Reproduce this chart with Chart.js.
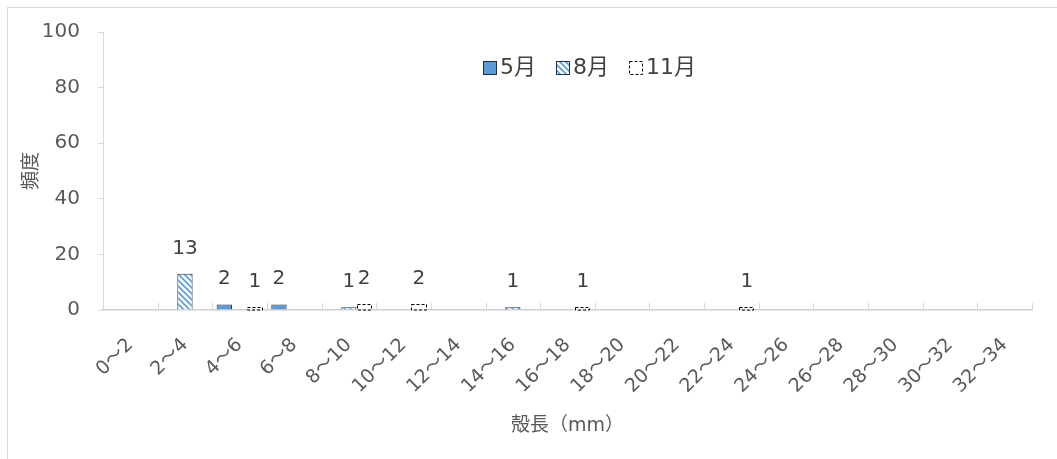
<!DOCTYPE html>
<html lang="ja">
<head>
<meta charset="UTF-8">
<title>殻長の頻度分布</title>
<script src="https://cdn.jsdelivr.net/npm/chart.js@4.4.1/dist/chart.umd.min.js"></script>
<style>
    html, body { margin: 0; padding: 0; background: #fff; overflow: hidden; }
    #frame {
        position: absolute;
        left: 7px;
        top: 7px;
        border-left: 1px solid #d9d9d9;
        border-top: 1px solid #d9d9d9;
    }
    canvas { display: block; }
</style>
</head>
<body>
<div id="frame">
    <canvas id="shellChart" width="1049" height="451"></canvas>
</div>
<script>
// shell length classes (mm)
const lengthClasses = ['0～2', '2～4', '4～6', '6～8', '8～10', '10～12', '12～14', '14～16', '16～18',
    '18～20', '20～22', '22～24', '24～26', '26～28', '28～30', '30～32', '32～34'];

// counts per class, empty cells left as null
const mayCounts = [null, null, 2, 2, null, null, null, null, null, null, null, null, null, null, null, null, null];
const augCounts = [null, 13, null, null, 1, null, null, 1, null, null, null, null, null, null, null, null, null];
const novCounts = [null, null, 1, null, 2, 2, null, null, 1, null, null, 1, null, null, null, null, null];

const seriesNames = ['5月', '8月', '11月'];
const yTicks = { min: 0, max: 100, step: 20 };

const FONT = '"DejaVu Sans", "Noto Sans CJK JP", sans-serif';
const TEXT = '#595959';
const LINE = '#d9d9d9';
const BLUE = '#5b9bd5';
const EDGE = '#1f2f4a';

// diagonal hatch used by the August bars
function makeHatch() {
    const c = document.createElement('canvas');
    c.width = 6;
    c.height = 6;
    const g = c.getContext('2d');
    g.fillStyle = '#ffffff';
    g.fillRect(0, 0, 6, 6);
    g.strokeStyle = BLUE;
    g.lineWidth = 1.6;
    g.beginPath();
    g.moveTo(-1, -1); g.lineTo(7, 7);
    g.moveTo(-4, 2); g.lineTo(4, 10);
    g.moveTo(2, -4); g.lineTo(10, 4);
    g.stroke();
    return g.createPattern(c, 'repeat');
}
const hatch = makeHatch();

function dashedBox(ctx, l, t, w, h) {
    ctx.save();
    ctx.strokeStyle = '#000000';
    ctx.lineWidth = 1;
    ctx.setLineDash([3, 2]);
    ctx.strokeRect(l, t, w, h);
    ctx.restore();
}

// keep the plot box fixed: no extra room for overhanging tick labels
function noOverhang(scale) {
    scale.paddingTop = 0;
    scale.paddingBottom = 0;
    scale.paddingLeft = 0;
    scale.paddingRight = 0;
}

// value labels above each bar
const valueLabels = {
    id: 'valueLabels',
    afterDatasetsDraw(chart) {
        const ctx = chart.ctx;
        ctx.save();
        ctx.font = '20px ' + FONT;
        ctx.fillStyle = '#404040';
        ctx.textAlign = 'center';
        ctx.textBaseline = 'alphabetic';
        chart.data.datasets.forEach((ds, i) => {
            chart.getDatasetMeta(i).data.forEach((bar, j) => {
                const v = ds.data[j];
                if (v === null || v === undefined) return;
                ctx.fillText(String(v), bar.x, bar.y - 20);
            });
        });
        ctx.restore();
    }
};

// dashed outline for the November bars, inward tick marks on the category axis
const axisExtras = {
    id: 'axisExtras',
    afterDatasetsDraw(chart) {
        const ctx = chart.ctx;
        chart.getDatasetMeta(2).data.forEach((bar, j) => {
            if (novCounts[j] === null) return;
            const l = Math.round(bar.x - bar.width / 2) + 0.5;
            const r = Math.round(bar.x + bar.width / 2) - 0.5;
            const t = Math.round(bar.y) + 0.5;
            dashedBox(ctx, l, t, r - l, Math.round(bar.base) - t);
        });

        const x = chart.scales.x;
        const yb = Math.round(x.top);
        ctx.save();
        ctx.strokeStyle = LINE;
        ctx.lineWidth = 1;
        ctx.beginPath();
        for (let i = 0; i <= lengthClasses.length; i++) {
            let px;
            if (i === 0) px = x.left;
            else if (i === lengthClasses.length) px = x.right;
            else px = (x.getPixelForValue(i - 1) + x.getPixelForValue(i)) / 2;
            px = Math.round(px) + 0.5;
            ctx.moveTo(px, yb);
            ctx.lineTo(px, yb - 7);
        }
        ctx.stroke();
        ctx.restore();
    }
};

// series key inside the plot, near the top
const seriesKey = {
    id: 'seriesKey',
    afterDraw(chart) {
        const ctx = chart.ctx;
        const area = chart.chartArea;
        const box = 13, gapText = 4, gapItem = 20;
        ctx.save();
        ctx.font = '22px ' + FONT;
        let cx = Math.round(area.left + 380);
        const cy = area.top + 35;
        ctx.textBaseline = 'middle';
        ctx.textAlign = 'left';
        chart.data.datasets.forEach((ds, i) => {
            const bx = cx + 0.5, by = Math.round(cy - box / 2) + 0.5;
            if (i === 2) {
                ctx.fillStyle = '#ffffff';
                ctx.fillRect(bx, by, box, box);
                dashedBox(ctx, bx, by, box, box);
            } else {
                ctx.fillStyle = ds.backgroundColor;
                ctx.fillRect(bx, by, box, box);
                ctx.strokeStyle = EDGE;
                ctx.lineWidth = 1;
                ctx.strokeRect(bx, by, box, box);
            }
            ctx.fillStyle = '#404040';
            ctx.fillText(seriesNames[i], cx + box + gapText, cy + 1);
            cx += box + gapText + ctx.measureText(seriesNames[i]).width + gapItem;
        });
        ctx.restore();
    }
};

new Chart(document.getElementById('shellChart'), {
    type: 'bar',
    data: {
        labels: lengthClasses,
        datasets: [
            { label: seriesNames[0], data: mayCounts, backgroundColor: BLUE, borderColor: EDGE, borderWidth: 1 },
            { label: seriesNames[1], data: augCounts, backgroundColor: hatch, borderColor: EDGE, borderWidth: 1 },
            { label: seriesNames[2], data: novCounts, backgroundColor: '#ffffff', borderColor: '#000000', borderWidth: 0 }
        ]
    },
    options: {
        responsive: false,
        animation: false,
        devicePixelRatio: 1,
        datasets: {
            bar: { barPercentage: 1, categoryPercentage: 0.84 }
        },
        layout: { padding: { top: 24, right: 25, left: 0, bottom: 0 } },
        scales: {
            x: {
                grid: { display: true, drawOnChartArea: false, drawTicks: false, color: LINE },
                border: { display: true, color: '#cfcfcf', width: 1.5 },
                ticks: {
                    autoSkip: false,
                    maxRotation: 45,
                    minRotation: 45,
                    padding: 24,
                    color: TEXT,
                    font: { family: FONT, size: 19 }
                },
                title: {
                    display: true,
                    text: '殻長（mm）',
                    color: TEXT,
                    font: { family: FONT, size: 19 },
                    padding: { top: 0, bottom: 22 }
                },
                afterFit(scale) { scale.height = 149; noOverhang(scale); }
            },
            y: {
                min: yTicks.min,
                max: yTicks.max,
                grid: { display: true, drawOnChartArea: false, drawTicks: true, tickLength: 5, color: LINE },
                border: { display: true, color: LINE },
                ticks: {
                    stepSize: yTicks.step,
                    padding: 18,
                    color: TEXT,
                    font: { family: FONT, size: 20 }
                },
                title: {
                    display: true,
                    text: '頻度',
                    color: TEXT,
                    font: { family: FONT, size: 19 },
                    padding: { top: 13, bottom: 0 }
                },
                afterFit(scale) { scale.width = 95; noOverhang(scale); }
            }
        },
        plugins: {
            tooltip: { enabled: false },
            legend: { display: false }
        }
    },
    plugins: [valueLabels, axisExtras, seriesKey]
});
</script>
</body>
</html>
